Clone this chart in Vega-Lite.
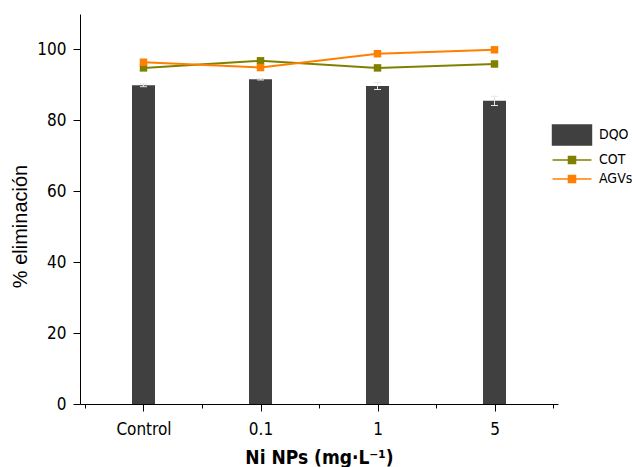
{
  "$schema": "https://vega.github.io/schema/vega-lite/v6.json",
  "width": 478,
  "height": 390,
  "autosize": "none",
  "padding": {"left": 80, "top": 14, "right": 74, "bottom": 63},
  "background": "white",
  "config": {
    "view": {"stroke": null},
    "font": "DejaVu Sans Condensed",
    "axis": {
      "grid": false,
      "domainColor": "black",
      "domainWidth": 1,
      "tickColor": "black",
      "tickWidth": 1,
      "labelColor": "black",
      "titleColor": "black",
      "labelFont": "DejaVu Sans Condensed",
      "labelFontSize": 17
    }
  },
  "datasets": {
    "bars": [
      {"conc": "Control", "idx": 0, "series": "DQO", "value": 89.9, "lo": 89.5, "hi": 90.3},
      {"conc": "0.1", "idx": 1, "series": "DQO", "value": 91.6, "lo": 91.4, "hi": 91.8},
      {"conc": "1", "idx": 2, "series": "DQO", "value": 89.7, "lo": 88.7, "hi": 90.7},
      {"conc": "5", "idx": 3, "series": "DQO", "value": 85.5, "lo": 84.2, "hi": 86.8}
    ],
    "lines": [
      {"conc": "Control", "idx": 0, "series": "COT", "value": 94.8},
      {"conc": "0.1", "idx": 1, "series": "COT", "value": 96.8},
      {"conc": "1", "idx": 2, "series": "COT", "value": 94.8},
      {"conc": "5", "idx": 3, "series": "COT", "value": 95.9},
      {"conc": "Control", "idx": 0, "series": "AGVs", "value": 96.4},
      {"conc": "0.1", "idx": 1, "series": "AGVs", "value": 94.9},
      {"conc": "1", "idx": 2, "series": "AGVs", "value": 98.8},
      {"conc": "5", "idx": 3, "series": "AGVs", "value": 99.9}
    ]
  },
  "layer": [
    {
      "data": {"name": "bars"},
      "mark": {"type": "bar", "width": 23},
      "encoding": {
        "x": {
          "field": "idx", "type": "quantitative",
          "scale": {"domain": [-0.5, 3.5], "nice": false, "zero": false},
          "axis": {
            "title": "Ni NPs (mg·L⁻¹)",
            "titleFont": "DejaVu Sans Condensed",
            "titleFontSize": 19,
            "titleFontWeight": "bold",
            "titlePadding": 11,
            "values": [-0.5, 0, 0.5, 1, 1.5, 2, 2.5, 3, 3.5],
            "labelExpr": "datum.value === 0 ? 'Control' : datum.value === 1 ? '0.1' : datum.value === 2 ? '1' : datum.value === 3 ? '5' : ''",
            "labelPadding": 10,
            "labelFlush": false,
            "labelOverlap": false,
            "tickSize": {"condition": {"test": "datum.value % 1 !== 0", "value": 4}, "value": 7}
          }
        },
        "y": {
          "field": "value", "type": "quantitative",
          "scale": {"domain": [0, 110], "nice": false},
          "axis": {
            "title": "% eliminación",
            "titleFont": "Liberation Sans",
            "titleFontSize": 20,
            "titleFontWeight": "normal",
            "titlePadding": 6,
            "titleY": 212,
            "values": [0, 10, 20, 30, 40, 50, 60, 70, 80, 90, 100, 110],
            "labelExpr": "datum.value % 20 === 0 ? datum.label : ''",
            "labelPadding": 7,
            "labelFlush": false,
            "labelOverlap": false,
            "tickSize": {"condition": {"test": "datum.value % 20 !== 0", "value": 4}, "value": 7}
          }
        },
        "color": {
          "field": "series", "type": "nominal",
          "scale": {"domain": ["DQO", "COT", "AGVs"], "range": ["#404040", "#808000", "#ff8000"]},
          "legend": {
            "orient": "none",
            "legendX": 480,
            "legendY": 109,
            "title": null,
            "padding": 0,
            "rowPadding": 0,
            "symbolSize": 484,
            "labelOffset": 15,
            "labelFont": "DejaVu Sans Condensed",
            "labelFontSize": 14,
            "labelColor": "black",
            "encode": {
              "symbols": {
                "update": {
                  "shape": {"signal": "datum.value === 'DQO' ? 'M-1.77,-0.9H1.77V0.9H-1.77Z' : 'M-1.77,0H1.77M-0.32,-0.32H0.32V0.32H-0.32Z'"},
                  "fill": {"signal": "datum.value === 'DQO' ? '#404040' : datum.value === 'COT' ? '#808000' : '#ff8000'"},
                  "stroke": {"signal": "datum.value === 'DQO' ? null : datum.value === 'COT' ? '#808000' : '#ff8000'"},
                  "strokeWidth": {"value": 1.5},
                  "size": {"value": 484},
                  "opacity": {"value": 1},
                  "fillOpacity": {"value": 1}
                }
              }
            }
          }
        }
      }
    },
    {
      "data": {"name": "bars"},
      "mark": {"type": "rule", "color": "#e6e6e6", "strokeWidth": 1},
      "encoding": {
        "x": {"field": "idx", "type": "quantitative", "title": "Ni NPs (mg·L⁻¹)"},
        "y": {"field": "lo", "type": "quantitative", "title": "% eliminación"},
        "y2": {"field": "hi"}
      }
    },
    {
      "data": {"name": "bars"},
      "mark": {"type": "tick", "orient": "horizontal", "color": "#e6e6e6", "size": 7, "thickness": 1, "opacity": 1},
      "encoding": {
        "x": {"field": "idx", "type": "quantitative", "title": "Ni NPs (mg·L⁻¹)"},
        "y": {"field": "lo", "type": "quantitative", "title": "% eliminación"}
      }
    },
    {
      "data": {"name": "bars"},
      "mark": {"type": "tick", "orient": "horizontal", "color": "#e6e6e6", "size": 7, "thickness": 1, "opacity": 1},
      "encoding": {
        "x": {"field": "idx", "type": "quantitative", "title": "Ni NPs (mg·L⁻¹)"},
        "y": {"field": "hi", "type": "quantitative", "title": "% eliminación"}
      }
    },
    {
      "data": {"name": "lines"},
      "mark": {"type": "line", "strokeWidth": 2},
      "encoding": {
        "x": {"field": "idx", "type": "quantitative", "title": "Ni NPs (mg·L⁻¹)"},
        "y": {"field": "value", "type": "quantitative", "title": "% eliminación"},
        "color": {"field": "series", "type": "nominal"}
      }
    },
    {
      "data": {"name": "lines"},
      "mark": {"type": "point", "shape": "square", "filled": true, "size": 56, "opacity": 1},
      "encoding": {
        "x": {"field": "idx", "type": "quantitative", "title": "Ni NPs (mg·L⁻¹)"},
        "y": {"field": "value", "type": "quantitative", "title": "% eliminación"},
        "color": {"field": "series", "type": "nominal"}
      }
    }
  ]
}
